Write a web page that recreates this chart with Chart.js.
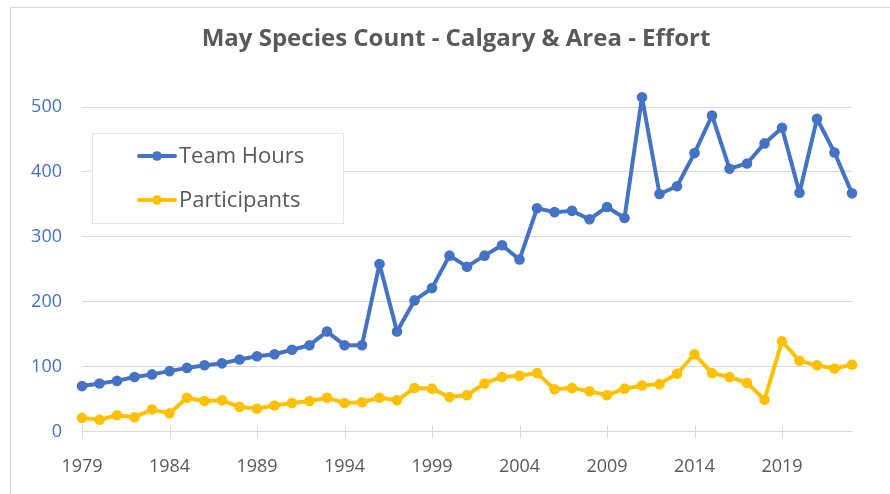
<!DOCTYPE html>
<html>
<head>
<meta charset="utf-8">
<script src="https://cdn.jsdelivr.net/npm/chart.js@4"></script>
<style>
  html, body { margin: 0; padding: 0; background: #fff; }
  #wrap { position: relative; width: 890px; height: 494px; overflow: hidden; }
  #frame { position: absolute; left: 10px; top: 7px; width: 900px; height: 500px; border: 1px solid #d9d9d9; box-sizing: border-box; }
  canvas { position: absolute; left: 0; top: 0; }
</style>
</head>
<body>
<div id="wrap">
  <div id="frame"></div>
  <canvas id="chart" width="890" height="494"></canvas>
</div>
<script>
// Years 1979 - 2023
const years = [];
for (let y = 1979; y <= 2023; y++) years.push(String(y));

const teamHours = [
    70, 74, 78, 84, 88, 93, 98, 102, 105, 111,
    116, 119, 126, 133, 154, 133, 133, 258, 154, 202,
    221, 271, 254, 271, 287, 265, 344, 338, 340, 327,
    346, 329, 515, 366, 378, 429, 487, 405, 413, 444,
    468, 368, 482, 430, 367
];
const participants = [
    21, 18, 25, 22, 34, 28, 52, 47, 48, 38,
    35, 40, 44, 47, 52, 44, 45, 52, 48, 67,
    66, 53, 56, 74, 84, 86, 90, 65, 67, 62,
    56, 66, 71, 73, 89, 119, 90, 84, 75, 49,
    139, 109, 102, 97, 103
];
const yTicks = [0, 100, 200, 300, 400, 500];

const blue = "#4472C4";
const gold = "#FFC000";
const textGray = "#595959";
const gridGray = "#d9d9d9";
const font = "'Open Sans', sans-serif";

// tick marks crossing the x axis at every labelled year
const tickMarks = {
    id: "tickMarks",
    beforeDatasetsDraw(chart) {
        const ctx = chart.ctx;
        const x = chart.scales.x;
        const bottom = chart.chartArea.bottom;
        ctx.save();
        ctx.strokeStyle = gridGray;
        ctx.lineWidth = 1;
        years.forEach((yr, i) => {
            if (i % 5 !== 0) return;
            const px = Math.round(x.getPixelForValue(i)) + 0.5;
            ctx.beginPath();
            ctx.moveTo(px, bottom - 6);
            ctx.lineTo(px, bottom + 7);
            ctx.stroke();
        });
        ctx.restore();
    }
};

// boxed legend inside the plot
const boxLegend = {
    id: "boxLegend",
    afterDraw(chart) {
        const ctx = chart.ctx;
        const bx = 92.5, by = 133.5, bw = 251, bh = 90;
        ctx.save();
        ctx.fillStyle = "#fff";
        ctx.fillRect(bx, by, bw, bh);
        ctx.strokeStyle = "#e6e6e6";
        ctx.lineWidth = 1;
        ctx.strokeRect(bx, by, bw, bh);
        const rows = [156, 200];
        chart.data.datasets.forEach((ds, i) => {
            const y = rows[i];
            ctx.strokeStyle = ds.borderColor;
            ctx.lineWidth = 4;
            ctx.lineCap = "round";
            ctx.beginPath();
            ctx.moveTo(139, y);
            ctx.lineTo(175, y);
            ctx.stroke();
            ctx.fillStyle = ds.borderColor;
            ctx.beginPath();
            ctx.arc(157, y, 4.8, 0, Math.PI * 2);
            ctx.fill();
            ctx.fillStyle = textGray;
            ctx.font = "22px " + font;
            ctx.textBaseline = "middle";
            ctx.textAlign = "left";
            ctx.fillText(ds.label, 179, y + 1);
        });
        ctx.restore();
    }
};

const lineStyle = {
    borderWidth: 4,
    borderJoinStyle: "round",
    borderCapStyle: "round",
    pointRadius: 5.3,
    pointBorderWidth: 0,
    tension: 0,
    clip: false
};

new Chart(document.getElementById("chart"), {
    type: "line",
    data: {
        labels: years,
        datasets: [
            Object.assign({
                label: "Team Hours",
                data: teamHours,
                borderColor: blue,
                backgroundColor: blue
            }, lineStyle),
            Object.assign({
                label: "Participants",
                data: participants,
                borderColor: gold,
                backgroundColor: gold
            }, lineStyle)
        ]
    },
    options: {
        responsive: false,
        animation: false,
        layout: { padding: { left: 22, right: 0, top: 0, bottom: 0 } },
        plugins: {
            legend: { display: false },
            tooltip: { enabled: false },
            title: {
                display: true,
                text: "May Species Count - Calgary & Area - Effort",
                color: textGray,
                font: { family: font, size: 24, weight: "bold", lineHeight: 1.2 },
                padding: { top: 25, bottom: 20.8 }
            }
        },
        scales: {
            x: {
                offset: false,
                grid: { display: false },
                border: { display: true, color: gridGray, width: 1 },
                ticks: {
                    autoSkip: false,
                    maxRotation: 0,
                    padding: 17,
                    color: textGray,
                    font: { family: font, size: 18 },
                    callback: function (val, i) {
                        return i % 5 === 0 ? years[i] : "";
                    }
                },
                afterFit: function (scale) { scale.height = 62.5; }
            },
            y: {
                min: 0,
                max: 550,
                afterBuildTicks: function (scale) {
                    scale.ticks = yTicks.map(v => ({ value: v }));
                },
                grid: { color: gridGray, drawTicks: false },
                border: { display: false },
                ticks: {
                    padding: 20,
                    color: blue,
                    font: { family: font, size: 18 }
                },
                afterFit: function (scale) { scale.width = 60; }
            },
            // empty right-hand margin
            yRight: {
                position: "right",
                grid: { display: false },
                border: { display: false },
                ticks: { display: false },
                afterFit: function (scale) { scale.width = 38; }
            }
        }
    },
    plugins: [tickMarks, boxLegend]
});
</script>
</body>
</html>
